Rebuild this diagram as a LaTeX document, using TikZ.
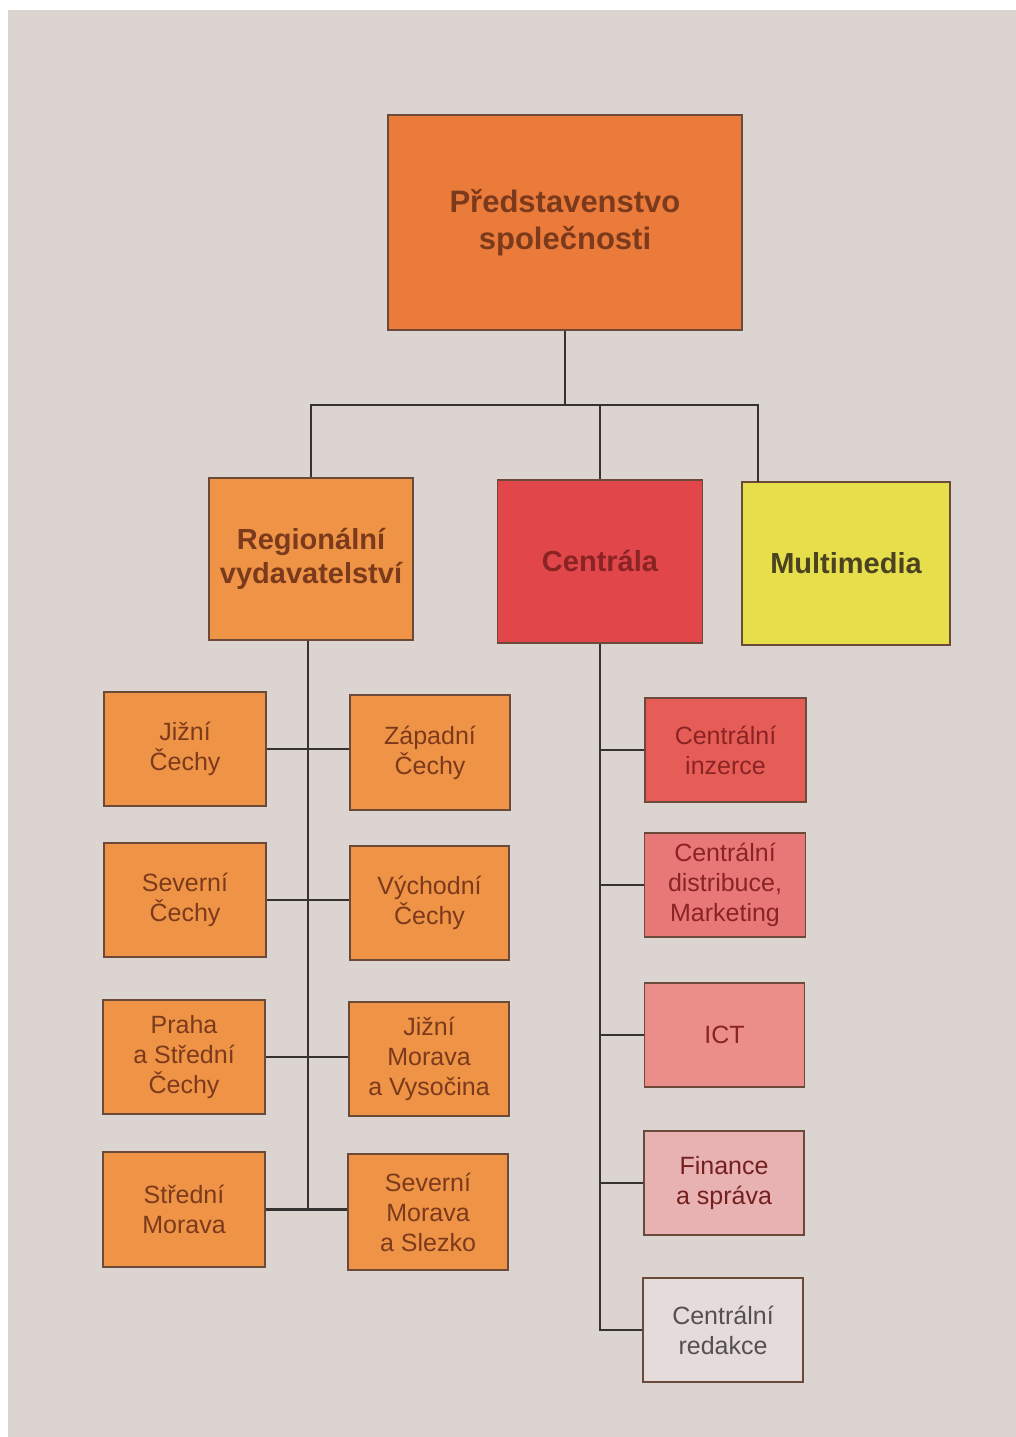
\documentclass[tikz,border=0pt]{standalone}
\usepackage{fontspec}
\setmainfont{Liberation Sans}
\definecolor{pagebg}{HTML}{DCD4D1}
\definecolor{ctop}{HTML}{EB7B3B}
\definecolor{corange}{HTML}{EF9446}
\definecolor{cred}{HTML}{E1474A}
\definecolor{cyellow}{HTML}{E7DE4B}
\definecolor{cinz}{HTML}{E65D57}
\definecolor{cdist}{HTML}{E87777}
\definecolor{cict}{HTML}{EB8D89}
\definecolor{cfin}{HTML}{E8B2B2}
\definecolor{cred2}{HTML}{E4DBDA}
\definecolor{tbrown}{HTML}{7C3A1C}
\definecolor{tdred}{HTML}{8A2424}
\definecolor{tolive}{HTML}{4A4220}
\definecolor{tgray}{HTML}{555050}
\definecolor{edge}{HTML}{6B4A3A}
\definecolor{wire}{HTML}{363232}
\tikzset{
  box/.style={draw=edge, line width=1.3pt, inner sep=0pt, align=center},
  smallbox/.style={box, font=\fontsize{25}{30}\selectfont},
  midbox/.style={box, font=\fontsize{29}{34}\selectfont\bfseries},
  wirestyle/.style={draw=wire, line width=2.1pt}
}
\begin{document}
\begin{tikzpicture}[x=1pt,y=-1pt]
\useasboundingbox (0,0) rectangle (1016,1437);
\fill[white] (0,0) rectangle (1016,1437);
\fill[pagebg] (8,10) rectangle (1016,1437);
% top
\node[box, fill=ctop, text=tbrown, minimum width=354pt, minimum height=215pt,
  font=\fontsize{31}{37}\selectfont\bfseries] (top) at (565,222.5) {Představenstvo\\společnosti};
% level 2
\node[midbox, fill=corange, text=tbrown, minimum width=204pt, minimum height=162pt] (reg) at (311,559) {Regionální\\vydavatelství};
\node[midbox, fill=cred, text=tdred, minimum width=205pt, minimum height=163pt] (cen) at (600,561.5) {Centrála};
\node[midbox, fill=cyellow, text=tolive, minimum width=208pt, minimum height=163pt] (mm) at (846,563.5) {Multimedia};
% regional children
\node[smallbox, fill=corange, text=tbrown, minimum width=162pt, minimum height=114pt] (jc) at (185,749) {Jižní\\Čechy};
\node[smallbox, fill=corange, text=tbrown, minimum width=160pt, minimum height=115pt] (zc) at (430,752.5) {Západní\\Čechy};
\node[smallbox, fill=corange, text=tbrown, minimum width=162pt, minimum height=114pt] (sc) at (185,900) {Severní\\Čechy};
\node[smallbox, fill=corange, text=tbrown, minimum width=159pt, minimum height=114pt] (vc) at (429.5,903) {Východní\\Čechy};
\node[smallbox, fill=corange, text=tbrown, minimum width=162pt, minimum height=114pt] (pc) at (184,1057) {Praha\\a Střední\\Čechy};
\node[smallbox, fill=corange, text=tbrown, minimum width=160pt, minimum height=114pt] (jm) at (429,1059) {Jižní\\Morava\\a Vysočina};
\node[smallbox, fill=corange, text=tbrown, minimum width=162pt, minimum height=115pt] (sm) at (184,1209.5) {Střední\\Morava};
\node[smallbox, fill=corange, text=tbrown, minimum width=160pt, minimum height=116pt] (ms) at (428,1212) {Severní\\Morava\\a Slezko};
% central children
\node[smallbox, fill=cinz, text=tdred, minimum width=161pt, minimum height=104pt] (inz) at (725.5,750) {Centrální\\inzerce};
\node[smallbox, fill=cdist, text=tdred, minimum width=161pt, minimum height=104pt] (dis) at (725,885) {Centrální\\distribuce,\\Marketing};
\node[smallbox, fill=cict, text=tdred, minimum width=160pt, minimum height=104pt] (ict) at (724.5,1035) {ICT};
\node[smallbox, fill=cfin, text=tdred!85!black, minimum width=160pt, minimum height=104pt] (fin) at (724,1183) {Finance\\a správa};
\node[smallbox, fill=cred2, text=tgray, minimum width=160pt, minimum height=104pt] (red) at (723,1330) {Centrální\\redakce};
% connectors
\coordinate (busR) at (758,405);
\coordinate (mmtop) at (758,482);
\coordinate (rspine) at ([xshift=-3pt]reg.south);
\draw[wirestyle] (top.south) -- (top.south |- busR);
\draw[wirestyle] (reg.north) |- (busR) -- (mmtop);
\draw[wirestyle] (cen.north) -- (cen.north |- busR);
% regional spine
\draw[wirestyle] (rspine) -- (rspine |- sm.east);
\draw[wirestyle] (jc.east) -- (jc.east -| zc.west);
\draw[wirestyle] (sc.east) -- (sc.east -| vc.west);
\draw[wirestyle] (pc.east) -- (pc.east -| jm.west);
\draw[wirestyle] (sm.east) -- (sm.east -| ms.west);
% central spine
\draw[wirestyle] (cen.south) -- (cen.south |- red.west) -- (red.west);
\draw[wirestyle] (cen.south |- inz.west) -- (inz.west);
\draw[wirestyle] (cen.south |- dis.west) -- (dis.west);
\draw[wirestyle] (cen.south |- ict.west) -- (ict.west);
\draw[wirestyle] (cen.south |- fin.west) -- (fin.west);
\end{tikzpicture}
\end{document}
